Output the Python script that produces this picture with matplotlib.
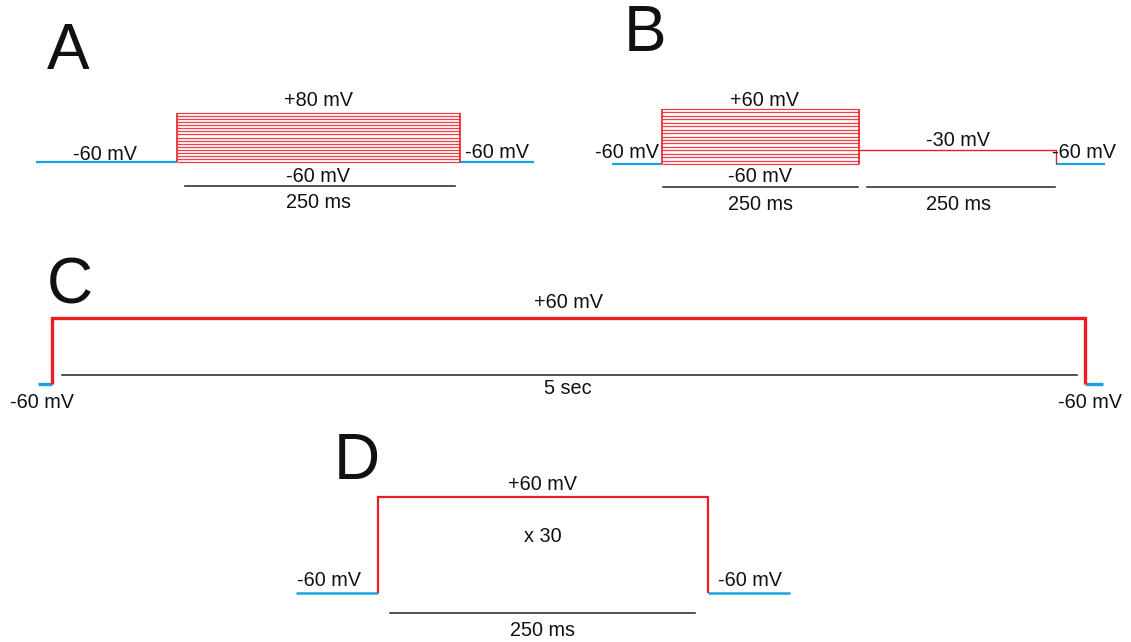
import numpy as np
import matplotlib.pyplot as plt

plt.rcParams['font.family'] = ['Liberation Sans', 'DejaVu Sans']

# protocol data (ms, mV)
hold_mv = -60
a_levels = [-60, -51.25, -42.5, -33.75, -25, -16.25, -7.5, 1.25, 10, 18.75, 27.5, 36.25, 45, 53.75, 62.5, 71.25, 80]
a_step_ms = 250
a_pre_ms, a_post_ms = 125, 65

b_levels = [-60, -52.5, -45, -37.5, -30, -22.5, -15, -7.5, 0, 7.5, 15, 22.5, 30, 37.5, 45, 52.5, 60]
b_step_ms = 250
b_tail_mv, b_tail_ms = -30, 250
b_pre_ms, b_post_ms = 63, 62

c_step_mv, c_step_ms = 60, 5000
c_pre_ms, c_post_ms = 68, 87

d_step_mv, d_step_ms = 60, 250
d_pre_ms, d_post_ms = 62, 62
d_repeats = 30

RED = '#ee1c24'
BLUE = '#1aa3e0'
BLACK = '#222222'
W, H = 1131, 642

fig = plt.figure(figsize=(W / 100, H / 100), dpi=100)
ax = fig.add_axes([0, 0, 1, 1])
ax.set_xlim(0, W)
ax.set_ylim(H, 0)
ax.axis('off')


def px(t, v, x0, y0, sx, sy):
    return x0 + np.asarray(t, float) * sx, y0 - (np.asarray(v, float) - hold_mv) * sy


def line(t, v, panel, **kw):
    x, y = px(t, v, *panel)
    ax.plot(x, y, solid_capstyle='butt', solid_joinstyle='miter', **kw)


def bar(t0, t1, yy, panel, inset=(8, 5)):
    x, _ = px([t0, t1], [hold_mv, hold_mv], *panel)
    ax.plot([x[0] + inset[0], x[1] - inset[1]], [yy, yy], color=BLACK, lw=1.1)


fs = 14.3
big = 46


def label(x, y, s, size=fs):
    ax.text(x, y, s, fontsize=size, ha='center', va='center', color='#111111')


# ---- A ----
pA = (177, 162, 283 / a_step_ms, 49 / (max(a_levels) - hold_mv))
line([-a_pre_ms, 0], [hold_mv, hold_mv], pA, color=BLUE, lw=1.6)
line([a_step_ms, a_step_ms + a_post_ms], [hold_mv, hold_mv], pA, color=BLUE, lw=1.6)
for v in a_levels:
    line([0, a_step_ms], [v, v], pA, color=RED, lw=0.9, alpha=0.85)
line([0, 0], [hold_mv, max(a_levels)], pA, color=RED, lw=1.2)
line([a_step_ms, a_step_ms], [hold_mv, max(a_levels)], pA, color=RED, lw=1.2)
bar(0, a_step_ms, 186, pA)
label(68, 52, 'A', big)
label(318, 101, '+80 mV')
label(105, 154, '-60 mV')
label(497, 153, '-60 mV')
label(318, 176, '-60 mV')
label(318, 203, '250 ms')

# ---- B ----
pB = (662, 164, 197 / b_step_ms, 55 / (max(b_levels) - hold_mv))
b_end = b_step_ms + b_tail_ms
line([-b_pre_ms, 0], [hold_mv, hold_mv], pB, color=BLUE, lw=1.6)
line([b_end, b_end + b_post_ms], [hold_mv, hold_mv], pB, color=BLUE, lw=1.6)
for v in b_levels:
    line([0, b_step_ms], [v, v], pB, color=RED, lw=0.9, alpha=0.85)
line([0, 0], [hold_mv, max(b_levels)], pB, color=RED, lw=1.2)
line([b_step_ms, b_step_ms], [hold_mv, max(b_levels)], pB, color=RED, lw=1.2)
line([b_step_ms, b_end, b_end], [b_tail_mv, b_tail_mv, hold_mv], pB, color=RED, lw=1.0)
bar(0, b_step_ms, 187, pB, inset=(1, 1))
bar(b_step_ms, b_end, 187, pB, inset=(8, 1))
label(645, 34, 'B', big)
label(765, 100, '+60 mV')
label(958, 140, '-30 mV')
label(627, 152, '-60 mV')
label(1084, 152, '-60 mV')
label(760, 176, '-60 mV')
label(760, 205, '250 ms')
label(958, 205, '250 ms')

# ---- C ----
pC = (52, 384, 1033 / c_step_ms, 66 / (c_step_mv - hold_mv))
line([-c_pre_ms, 0], [hold_mv, hold_mv], pC, color=BLUE, lw=2.4)
line([c_step_ms, c_step_ms + c_post_ms], [hold_mv, hold_mv], pC, color=BLUE, lw=2.4)
line([0, 0, c_step_ms, c_step_ms], [hold_mv, c_step_mv, c_step_mv, hold_mv], pC, color=RED, lw=2.4)
bar(0, c_step_ms, 375, pC, inset=(10, 8))
label(70, 286, 'C', big)
label(568, 302, '+60 mV')
label(568, 389, '5 sec')
label(42, 403, '-60 mV')
label(1090, 403, '-60 mV')

# ---- D ----
pD = (378, 593, 330 / d_step_ms, 96 / (d_step_mv - hold_mv))
line([-d_pre_ms, 0], [hold_mv, hold_mv], pD, color=BLUE, lw=1.8)
line([d_step_ms, d_step_ms + d_post_ms], [hold_mv, hold_mv], pD, color=BLUE, lw=1.8)
line([0, 0, d_step_ms, d_step_ms], [hold_mv, d_step_mv, d_step_mv, hold_mv], pD, color=RED, lw=1.6)
bar(0, d_step_ms, 613, pD, inset=(12, 13))
label(357, 462, 'D', big)
label(543, 485, '+60 mV')
label(543, 536, f'x {d_repeats}')
label(329, 580, '-60 mV')
label(750, 580, '-60 mV')
label(543, 630, '250 ms')

fig.savefig('out.png', dpi=100)
